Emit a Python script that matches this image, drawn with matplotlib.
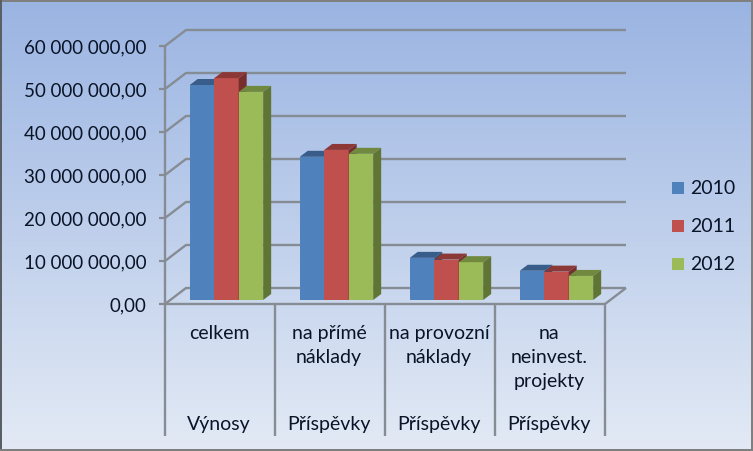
import matplotlib
matplotlib.use('Agg')
import matplotlib.pyplot as plt
import numpy as np
from matplotlib.patches import Polygon, Rectangle

plt.rcParams['font.family'] = ['Lato', 'DejaVu Sans']

years = ['2010', '2011', '2012']
categories = ['celkem', 'na přímé\nnáklady', 'na provozní\nnáklady', 'na\nneinvest.\nprojekty']
groups = ['Výnosy', 'Příspěvky', 'Příspěvky', 'Příspěvky']
values_2010 = [50.0e6, 33.3e6, 9.8e6, 6.8e6]
values_2011 = [51.6e6, 34.9e6, 9.4e6, 6.6e6]
values_2012 = [48.4e6, 34.0e6, 8.8e6, 5.6e6]
series = [values_2010, values_2011, values_2012]
yticks = [0, 10e6, 20e6, 30e6, 40e6, 50e6, 60e6]
yticklabels = ['0,00', '10 000 000,00', '20 000 000,00', '30 000 000,00',
               '40 000 000,00', '50 000 000,00', '60 000 000,00']

front = ['#4F81BD', '#C0504D', '#9BBB59']
top = ['#385D8A', '#8C3836', '#71893F']
side = ['#2F4F77', '#772F2D', '#607535']
grid = '#868C94'
txt = '#0A1428'

W, H = 753, 451
fig = plt.figure(figsize=(W / 100, H / 100), dpi=100)

# gradient background
bg = fig.add_axes([0, 0, 1, 1])
bg.set_axis_off()
c0 = np.array([0x9A, 0xB4, 0xE2]) / 255
c1 = np.array([0xE3, 0xEA, 0xF5]) / 255
t = np.linspace(0, 1, 256)[:, None, None]
bg.imshow(c0 + (c1 - c0) * t, aspect='auto', extent=[0, 1, 0, 1])
bg.set_xlim(0, 1)
bg.set_ylim(0, 1)

# plot box, front plane of the 3d chart
x0, x1, ybot, ytop = 165, 605, 304, 46
ax = fig.add_axes([x0 / W, 1 - ybot / H, (x1 - x0) / W, (ybot - ytop) / H])
ax.patch.set_visible(False)
ax.set_xlim(0, 4)
ax.set_ylim(0, 60e6)
for s in ax.spines.values():
    s.set_visible(False)
ax.set_xticks([])
ax.set_yticks(yticks)
ax.set_yticklabels(yticklabels, fontsize=13.5, color=txt)
ax.tick_params(axis='y', length=4.5, width=1.6, color=grid, pad=9)

# pixel sizes to data units
px = 4 / (x1 - x0)
py = 60e6 / (ybot - ytop)
kw = dict(color=grid, lw=1.7, clip_on=False, solid_capstyle='butt')

# walls
wx, wy = 21 * px, 16 * py
for v in yticks:
    ax.plot([0, wx, 4 + wx], [v, v + wy, v + wy], **kw)
ax.plot([4, 4 + wx], [0, wy], **kw)
ax.plot([0, 0], [0, 60e6], **kw)
ax.plot([0, 4], [0, 0], **kw)

# bars
bw = 0.2225
dx, dy = 8 * px, 6 * py
base = 4 * py
for i, vals in enumerate(series):
    left = np.arange(4) + 0.225 + i * bw
    ax.bar(left, vals, bw, bottom=base, align='edge', color=front[i], zorder=3 + i,
           label=years[i], clip_on=False)
    for l, v in zip(left, vals):
        t_y = v + base
        ax.add_patch(Polygon([(l, t_y), (l + dx, t_y + dy), (l + bw + dx, t_y + dy), (l + bw, t_y)],
                             fc=top[i], ec='none', zorder=3 + i, clip_on=False))
        ax.add_patch(Polygon([(l + bw, base), (l + bw + dx, base + dy), (l + bw + dx, t_y + dy), (l + bw, t_y)],
                             fc=side[i], ec='none', zorder=3 + i, clip_on=False))

# category table under the axis
drop = (436 - ybot) * py
for k in range(5):
    ax.plot([k, k], [0, -drop], **kw)
for k in range(4):
    ax.text(k + 0.49, -21 * py, categories[k], ha='center', va='top', fontsize=14,
            color=txt, linespacing=1.5)
    ax.text(k + 0.49, -120.5 * py, groups[k], ha='center', va='center', fontsize=14, color=txt)

# legend
for i, (yr, ly) in enumerate(zip(years, [188, 226, 264])):
    fig.add_artist(Rectangle((672 / W, 1 - (ly + 6) / H), 12 / W, 12 / H, fc=front[i], ec='none',
                             transform=fig.transFigure))
    fig.text(690 / W, 1 - ly / H, yr, fontsize=14, color=txt, va='center', ha='left')

# picture frame
edge = '#7F7F7F'
fig.add_artist(Rectangle((0, 1 - 2 / H), 1, 2 / H, fc=edge, ec='none', transform=fig.transFigure))
fig.add_artist(Rectangle((0, 0), 2 / W, 1, fc='#5A5F66', ec='none', transform=fig.transFigure))
fig.add_artist(Rectangle((1 - 2 / W, 0), 2 / W, 1, fc=edge, ec='none', transform=fig.transFigure))
fig.add_artist(Rectangle((0, 0), 1, 2 / H, fc=edge, ec='none', transform=fig.transFigure))

fig.savefig('out.png', dpi=100)
